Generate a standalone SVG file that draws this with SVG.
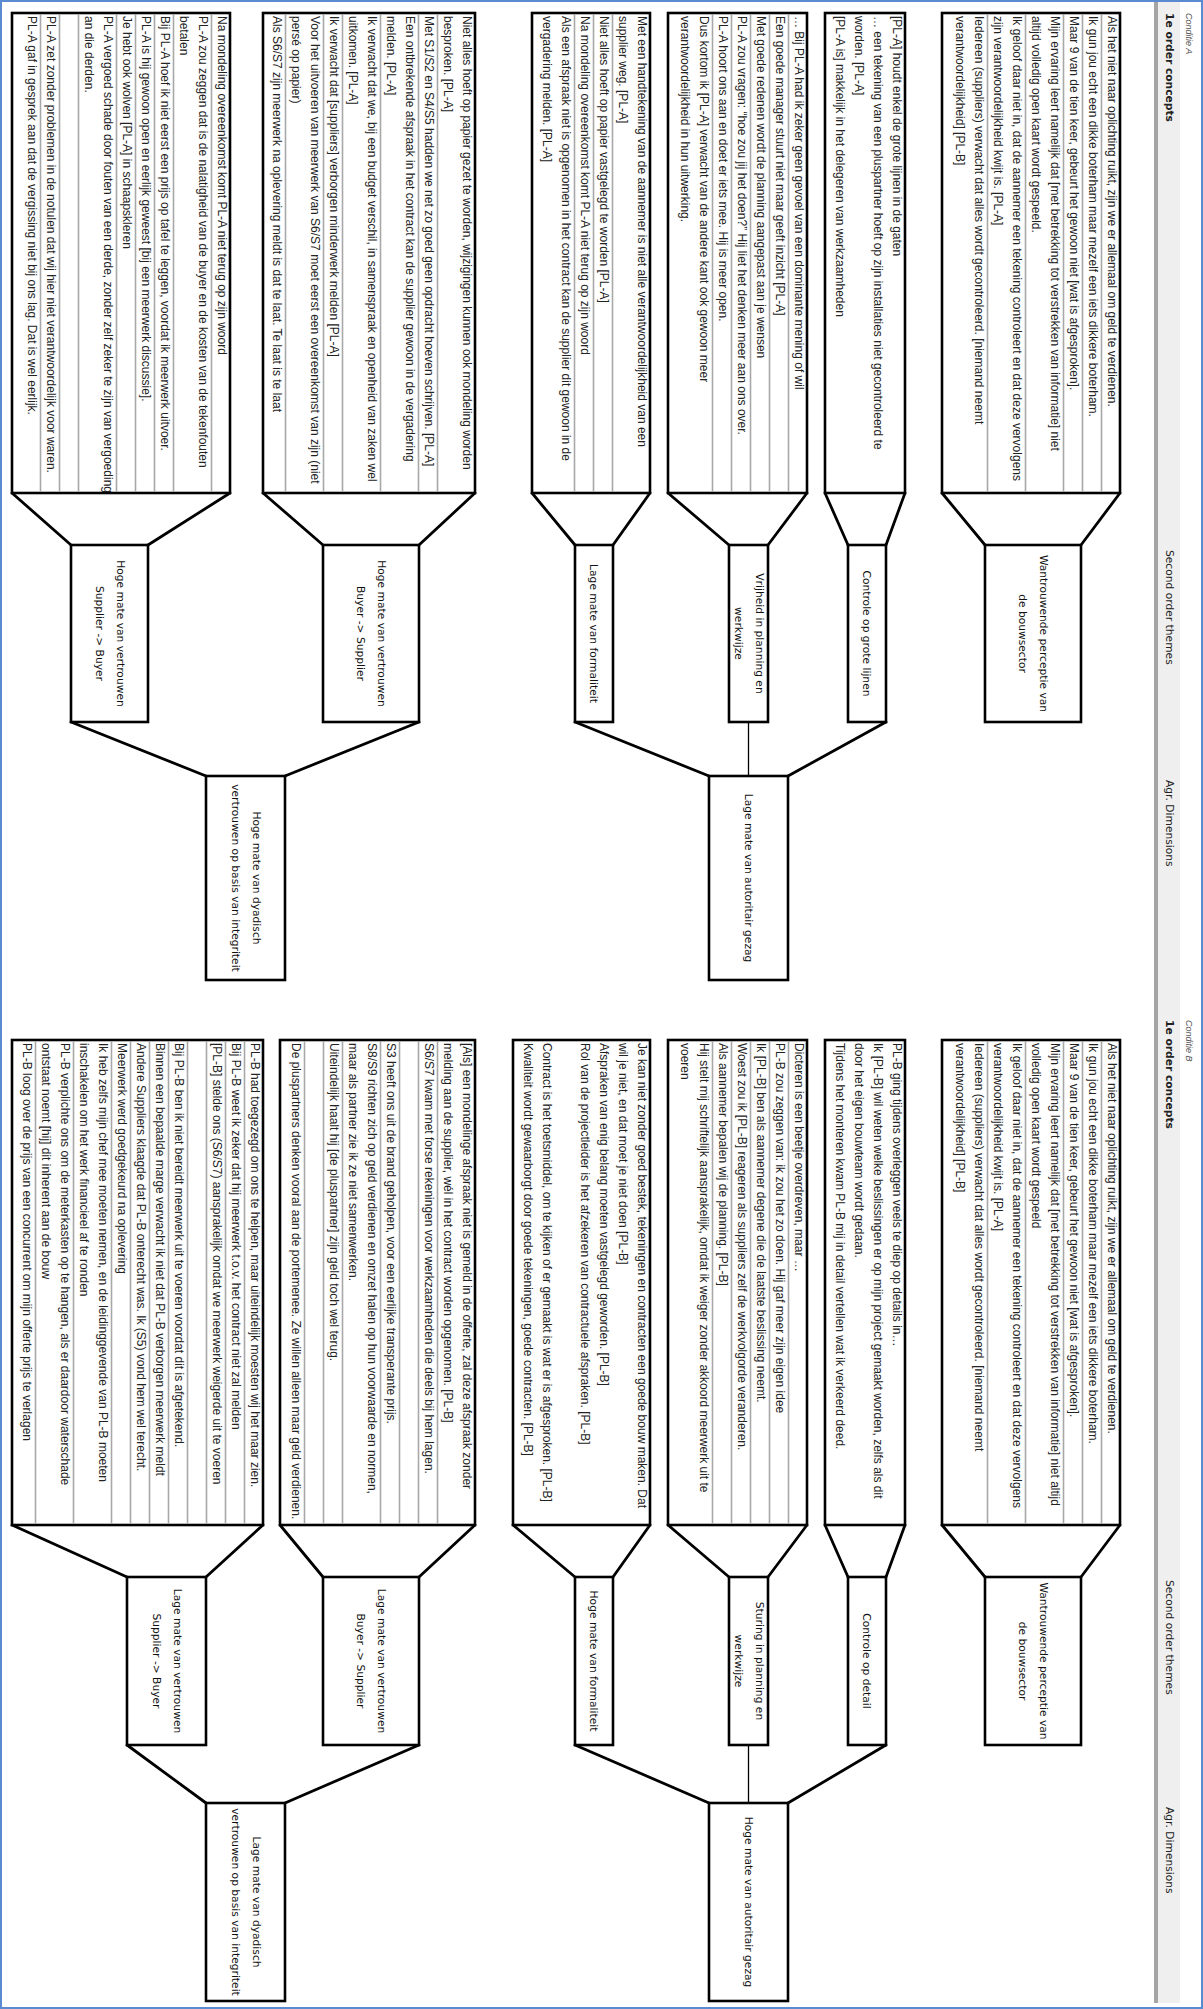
<svg xmlns="http://www.w3.org/2000/svg" width="1203" height="2009" viewBox="0 0 1203 2009">
<style>
.t{font-family:"Liberation Sans",Arial,sans-serif;font-size:12px;fill:#222}
.l{font-family:"DejaVu Sans",Verdana,sans-serif;font-size:10.7px;fill:#111;text-anchor:middle}
.h{font-family:"DejaVu Sans",Verdana,sans-serif;font-size:10.7px;fill:#222}
.hb{font-weight:bold}
.c{font-family:"Liberation Sans",Arial,sans-serif;font-size:9px;font-style:italic;fill:#555}
.bx{fill:#fff;stroke:#000;stroke-width:2.6}
.sp{stroke:#a8a8a8;stroke-width:1.6;fill:none}
.fn{stroke:#000;stroke-width:2.8;fill:none;stroke-linecap:round}
.th{stroke:#000;stroke-width:1.3;fill:none}
</style>
<rect x="0" y="0" width="1203" height="2009" fill="#fff"/>
<g transform="translate(1203 0) rotate(90)">
<g id="header">
<rect x="2" y="23" width="2001" height="22" fill="#efefef"/>
<rect x="2" y="45" width="2001" height="4" fill="#a5a5a5"/>
<text class="c" x="13" y="17">Conditie A</text>
<text class="h hb" x="13" y="37">1e order concepts</text>
<text class="h" x="550" y="37">Second order themes</text>
<text class="h" x="780" y="37">Agr. Dimensions</text>
<text class="c" x="1020" y="17">Conditie B</text>
<text class="h hb" x="1020" y="37">1e order concepts</text>
<text class="h" x="1580" y="37">Second order themes</text>
<text class="h" x="1807" y="37">Agr. Dimensions</text>
</g>
<g id="connectors">
<path class="fn" d="M493 83L545 122M493 261L545 218M493 298L545 317M493 378L545 355M493 396L545 435M493 535L545 474M493 553L545 590M493 671L545 628M493 728L545 784M493 940L545 880M493 973L545 1055M493 1191L545 1132M722 317L776 415M722 628L776 494M722 784L776 918M722 1132L776 997"/>
<path class="th" d="M722 454.5L776 454.5"/>
<path class="fn" d="M1525 83L1577 122M1525 261L1577 218M1525 298L1577 317M1525 378L1577 355M1525 396L1577 435M1525 535L1577 474M1525 553L1577 590M1525 690L1577 628M1525 728L1577 784M1525 923L1577 880M1525 940L1577 997M1525 1191L1577 1076M1745 317L1803 415M1745 628L1803 494M1745 784L1803 918M1745 1076L1803 997"/>
<path class="th" d="M1745 454.5L1803 454.5"/>
</g>

<!-- Conditie A : first order concepts -->
<g id="a-c1">
<rect class="bx" x="13" y="83" width="480" height="178"/>
<path class="sp" d="M14 101.5H492M14 120.5H492M14 139.5H492M14 177.5H492M14 215.5H492"/>
<text class="t" x="16" y="95">Als het niet naar oplichting ruikt,  zijn we er allemaal om geld te verdienen.</text>
<text class="t" x="16" y="114">Ik gun jou echt een dikke boterham maar mezelf een iets dikkere boterham.</text>
<text class="t" x="16" y="133">Maar 9 van de tien keer, gebeurt het gewoon niet [wat is afgesproken].</text>
<text class="t" x="16" y="152">Mijn ervaring leert namelijk dat [met betrekking tot verstrekken van informatie] niet</text>
<text class="t" x="16" y="171">altijd volledig open kaart wordt gespeeld.</text>
<text class="t" x="16" y="190">Ik geloof daar niet in, dat de aannemer een tekening controleert en dat deze vervolgens</text>
<text class="t" x="16" y="209">zijn verantwoordelijkheid kwijt is. [PL-A]</text>
<text class="t" x="16" y="228">Iedereen (suppliers) verwacht dat alles wordt gecontroleerd. [niemand neemt</text>
<text class="t" x="16" y="247">verantwoordelijkheid] [PL-B]</text>
</g>
<g id="a-c2">
<rect class="bx" x="13" y="298" width="480" height="80"/>
<text class="t" x="16" y="310">[PL-A] houdt enkel de grote lijnen in de gaten</text>
<text class="t" x="16" y="329">… een tekening van een pluspartner hoeft op zijn installaties niet gecontroleerd te</text>
<text class="t" x="16" y="348">worden. [PL-A]</text>
<text class="t" x="16" y="367">[PL-A is] makkelijk in het delegeren van werkzaamheden</text>
</g>
<g id="a-c3">
<rect class="bx" x="13" y="396" width="480" height="139"/>
<path class="sp" d="M14 414.5H492M14 433.5H492M14 452.5H492M14 471.5H492M14 490.5H492"/>
<text class="t" x="16" y="408">… Bij PL-A had ik zeker geen gevoel van een dominante mening of wil</text>
<text class="t" x="16" y="427">Een goede manager stuurt niet maar geeft inzicht [PL-A]</text>
<text class="t" x="16" y="446">Met goede redenen wordt de planning aangepast aan je wensen</text>
<text class="t" x="16" y="465">PL-A zou vragen: “hoe zou jij het doen?” Hij liet het denken meer aan ons over.</text>
<text class="t" x="16" y="484">PL-A hoort ons aan en doet er iets mee. Hij is meer open.</text>
<text class="t" x="16" y="503">Dus kortom ik [PL-A] verwacht van de andere kant ook gewoon meer</text>
<text class="t" x="16" y="522">verantwoordelijkheid in hun uitwerking.</text>
</g>
<g id="a-c4">
<rect class="bx" x="13" y="553" width="480" height="118"/>
<path class="sp" d="M14 590.5H492M14 609.5H492M14 628.5H492"/>
<text class="t" x="16" y="565">Met een handtekening van de aannemer is niet alle verantwoordelijkheid van een</text>
<text class="t" x="16" y="584">supplier weg. [PL-A]</text>
<text class="t" x="16" y="603">Niet alles hoeft op papier vastgelegd te worden [PL-A]</text>
<text class="t" x="16" y="622">Na mondeling overeenkomst komt PL-A niet terug op zijn woord</text>
<text class="t" x="16" y="641">Als een afspraak niet is opgenomen in het contract kan de supplier dit gewoon in de</text>
<text class="t" x="16" y="660">vergadering melden. [PL-A]</text>
</g>
<g id="a-c5">
<rect class="bx" x="13" y="728" width="480" height="212"/>
<path class="sp" d="M14 765.5H492M14 784.5H492M14 822.5H492M14 860.5H492M14 879.5H492M14 917.5H492"/>
<text class="t" x="16" y="740">Niet alles hoeft op papier gezet te worden, wijzigingen kunnen ook mondeling worden</text>
<text class="t" x="16" y="759">besproken. [PL-A]</text>
<text class="t" x="16" y="778">Met S1/S2 en S4/S5 hadden we net zo goed geen opdracht hoeven schrijven. [PL-A]</text>
<text class="t" x="16" y="797">Een ontbrekende afspraak in het contract kan de supplier gewoon in de vergadering</text>
<text class="t" x="16" y="816">melden. [PL-A]</text>
<text class="t" x="16" y="835">Ik verwacht dat we, bij een budget verschil,  in samenspraak en openheid van zaken wel</text>
<text class="t" x="16" y="854">uitkomen. [PL-A]</text>
<text class="t" x="16" y="873">Ik verwacht dat [suppliers] verborgen minderwerk melden [PL-A]</text>
<text class="t" x="16" y="892">Voor het uitvoeren van meerwerk van S6/S7 moet eerst een overeenkomst van zijn (niet</text>
<text class="t" x="16" y="911">persé op papier)</text>
<text class="t" x="16" y="930">Als S6/S7 zijn meerwerk na oplevering meldt is dat te laat. Te laat is te laat</text>
</g>
<g id="a-c6">
<rect class="bx" x="13" y="973" width="480" height="218"/>
<path class="sp" d="M14 991.5H492M14 1029.5H492M14 1048.5H492M14 1067.5H492M14 1086.5H492M14 1124.5H492M14 1143.5H492M14 1162.5H492"/>
<text class="t" x="16" y="985">Na mondeling overeenkomst komt PL-A niet terug op zijn woord</text>
<text class="t" x="16" y="1004">PL-A zou zeggen dat is de nalatigheid van de buyer en de kosten van de tekenfouten</text>
<text class="t" x="16" y="1023">betalen</text>
<text class="t" x="16" y="1042">Bij PL-A hoef ik niet eerst een prijs op tafel te leggen, voordat ik meerwerk uitvoer.</text>
<text class="t" x="16" y="1061">PL-A is hij gewoon open en eerlijk geweest [bij een meerwerk discussie].</text>
<text class="t" x="16" y="1080">Je hebt ook wolven [PL-A] in schaapskleren</text>
<text class="t" x="16" y="1099">PL-A vergoed schade door fouten van een derde, zonder zelf zeker te zijn van vergoeding</text>
<text class="t" x="16" y="1118">an die derden.</text>
<text class="t" x="16" y="1156">PL-A zet zonder problemen in de notulen dat wij hier niet verantwoordelijk voor waren.</text>
<text class="t" x="16" y="1175">PL-A gaf in gesprek aan dat de vergissing niet bij ons lag. Dat is wel eerlijk.</text>
</g>

<!-- Conditie A : second order themes -->
<g id="a-t1"><rect class="bx" x="545" y="122" width="177" height="96"/>
<text class="l" x="633.5" y="163">Wantrouwende perceptie van</text><text class="l" x="633.5" y="184">de bouwsector</text></g>
<g id="a-t2"><rect class="bx" x="545" y="317" width="177" height="38"/>
<text class="l" x="633.5" y="340">Controle op grote lijnen</text></g>
<g id="a-t3"><rect class="bx" x="545" y="435" width="177" height="39"/>
<text class="l" x="633.5" y="447.5">Vrijheid in planning en</text><text class="l" x="633.5" y="468.5">werkwijze</text></g>
<g id="a-t4"><rect class="bx" x="545" y="590" width="177" height="38"/>
<text class="l" x="633.5" y="613">Lage mate van formaliteit</text></g>
<g id="a-t5"><rect class="bx" x="545" y="784" width="177" height="96"/>
<text class="l" x="633.5" y="825">Hoge mate van vertrouwen</text><text class="l" x="633.5" y="846">Buyer -&gt; Supplier</text></g>
<g id="a-t6"><rect class="bx" x="545" y="1055" width="177" height="77"/>
<text class="l" x="633.5" y="1086.5">Hoge mate van vertrouwen</text><text class="l" x="633.5" y="1107.5">Supplier -&gt; Buyer</text></g>

<!-- Conditie A : aggregate dimensions -->
<g id="a-d1"><rect class="bx" x="776" y="415" width="204" height="79"/>
<text class="l" x="878" y="458.5">Lage mate van autoritair gezag</text></g>
<g id="a-d2"><rect class="bx" x="776" y="918" width="204" height="79"/>
<text class="l" x="878" y="950.5">Hoge mate van dyadisch</text><text class="l" x="878" y="971.5">vertrouwen op basis van integriteit</text></g>

<!-- Conditie B : first order concepts -->
<g id="b-c1">
<rect class="bx" x="1040" y="83" width="485" height="178"/>
<path class="sp" d="M1041 101.5H1524M1041 120.5H1524M1041 139.5H1524M1041 177.5H1524M1041 215.5H1524"/>
<text class="t" x="1043" y="95">Als het niet naar oplichting ruikt,  zijn we er allemaal om geld te verdienen.</text>
<text class="t" x="1043" y="114">Ik gun jou echt een dikke boterham maar mezelf een iets dikkere boterham.</text>
<text class="t" x="1043" y="133">Maar 9 van de tien keer, gebeurt het gewoon niet [wat is afgesproken].</text>
<text class="t" x="1043" y="152">Mijn ervaring leert namelijk dat [met betrekking tot verstrekken van informatie] niet altijd</text>
<text class="t" x="1043" y="171">volledig open kaart wordt gespeeld</text>
<text class="t" x="1043" y="190">Ik geloof daar niet in, dat de aannemer een tekening controleert en dat deze vervolgens</text>
<text class="t" x="1043" y="209">verantwoordelijkheid kwijt is. [PL-A]</text>
<text class="t" x="1043" y="228">Iedereen (suppliers) verwacht dat alles wordt gecontroleerd. [niemand neemt</text>
<text class="t" x="1043" y="247">verantwoordelijkheid] [PL-B]</text>
</g>
<g id="b-c2">
<rect class="bx" x="1040" y="298" width="485" height="80"/>
<text class="t" x="1043" y="310">PL-B ging tijdens overleggen veels te diep op details in…</text>
<text class="t" x="1043" y="329">Ik [PL-B] wil weten welke beslissingen er op mijn project gemaakt worden, zelfs als dit</text>
<text class="t" x="1043" y="348">door het eigen bouwteam wordt gedaan.</text>
<text class="t" x="1043" y="367">Tijdens het monteren kwam PL-B mij in detail vertellen wat ik verkeerd deed.</text>
</g>
<g id="b-c3">
<rect class="bx" x="1040" y="396" width="485" height="139"/>
<path class="sp" d="M1041 414.5H1524M1041 433.5H1524M1041 452.5H1524M1041 471.5H1524M1041 490.5H1524"/>
<text class="t" x="1043" y="408">Dicteren is een beetje overdreven, maar …</text>
<text class="t" x="1043" y="427">PL-B zou zeggen van: ik zou het zo doen. Hij gaf meer zijn eigen idee</text>
<text class="t" x="1043" y="446">Ik [PL-B] ben als aannemer degene die de laatste beslissing neemt.</text>
<text class="t" x="1043" y="465">Woest zou ik [PL-B] reageren als suppliers zelf de werkvolgorde veranderen.</text>
<text class="t" x="1043" y="484">Als aannemer bepalen wij de planning. [PL-B]</text>
<text class="t" x="1043" y="503">Hij stelt mij schriftelijk aansprakelijk, omdat ik weiger zonder akkoord meerwerk uit te</text>
<text class="t" x="1043" y="522">voeren</text>
</g>
<g id="b-c4">
<rect class="bx" x="1040" y="553" width="485" height="137"/>
<text class="t" x="1043" y="565">Je kan niet zonder goed bestek, tekeningen en contracten een goede bouw maken. Dat</text>
<text class="t" x="1043" y="584">wil je niet, en dat moet je niet doen [PL-B]</text>
<text class="t" x="1043" y="603">Afspraken van enig belang moeten vastgelegd geworden. [PL-B]</text>
<text class="t" x="1043" y="622">Rol van de projectleider is het afzekeren van contractuele afspraken. [PL-B]</text>
<text class="t" x="1043" y="660">Contract is het toetsmiddel, om te kijken of er gemaakt is wat er is afgesproken. [PL-B]</text>
<text class="t" x="1043" y="679">Kwaliteit wordt gewaarborgt door goede tekeningen, goede contracten. [PL-B]</text>
</g>
<g id="b-c5">
<rect class="bx" x="1040" y="728" width="485" height="195"/>
<path class="sp" d="M1041 765.5H1524M1041 784.5H1524M1041 803.5H1524M1041 822.5H1524M1041 860.5H1524M1041 879.5H1524M1041 898.5H1524"/>
<text class="t" x="1043" y="740">[Als] een mondelinge afspraak niet is gemeld in de offerte, zal deze afspraak zonder</text>
<text class="t" x="1043" y="759">melding aan de supplier, wél in het contract worden opgenomen. [PL-B]</text>
<text class="t" x="1043" y="778">S6/S7 kwam met forse rekeningen voor werkzaamheden die deels bij hem lagen.</text>
<text class="t" x="1043" y="816">S3 heeft ons uit de brand geholpen, voor een eerlijke transperante prijs.</text>
<text class="t" x="1043" y="835">S8/S9 richten zich op geld verdienen en omzet halen op hun voorwaarde en normen,</text>
<text class="t" x="1043" y="854">maar als partner zie ik ze niet samenwerken.</text>
<text class="t" x="1043" y="873">Uiteindelijk haalt hij [de pluspartner] zijn geld toch wel terug.</text>
<text class="t" x="1043" y="911">De pluspartners denken vooral aan de portemenee. Ze willen alleen maar geld verdienen.</text>
</g>
<g id="b-c6">
<rect class="bx" x="1040" y="940" width="485" height="251"/>
<path class="sp" d="M1041 958.5H1524M1041 977.5H1524M1041 996.5H1524M1041 1015.5H1524M1041 1034.5H1524M1041 1053.5H1524M1041 1072.5H1524M1041 1091.5H1524M1041 1129.5H1524M1041 1167.5H1524"/>
<text class="t" x="1043" y="952">PL-B had toegezegd om ons te helpen, maar uiteindelijk moesten wij het maar zien.</text>
<text class="t" x="1043" y="971">Bij PL-B weet ik zeker dat hij meerwerk t.o.v. het contract niet zal melden</text>
<text class="t" x="1043" y="990">[PL-B] stelde ons (S6/S7) aansprakelijk omdat we meerwerk weigerde uit te voeren</text>
<text class="t" x="1043" y="1028">Bij PL-B ben ik niet bereidt meerwerk uit te voeren voordat dit is afgetekend.</text>
<text class="t" x="1043" y="1047">Binnen een bepaalde marge verwacht ik niet dat PL-B verborgen meerwerk meldt</text>
<text class="t" x="1043" y="1066">Andere Suppliers klaagde dat PL-B onterecht was. Ik (S5) vond hem wel terecht.</text>
<text class="t" x="1043" y="1085">Meerwerk werd goedgekeurd na oplevering</text>
<text class="t" x="1043" y="1104">Ik heb zelfs mijn chef mee moeten nemen, en de leidinggevende van PL-B moeten</text>
<text class="t" x="1043" y="1123">inschakelen om het werk financieel af te ronden</text>
<text class="t" x="1043" y="1142">PL-B verplichte ons om de meterkasten op te hangen, als er daardoor waterschade</text>
<text class="t" x="1043" y="1161">ontstaat noemt [hij] dit inherent aan de bouw</text>
<text class="t" x="1043" y="1180">PL-B loog over de prijs van een concurrent om mijn offerte prijs te verlagen</text>
</g>

<!-- Conditie B : second order themes -->
<g id="b-t1"><rect class="bx" x="1577" y="122" width="168" height="96"/>
<text class="l" x="1661" y="163">Wantrouwende perceptie van</text><text class="l" x="1661" y="184">de bouwsector</text></g>
<g id="b-t2"><rect class="bx" x="1577" y="317" width="168" height="38"/>
<text class="l" x="1661" y="340">Controle op detail</text></g>
<g id="b-t3"><rect class="bx" x="1577" y="435" width="168" height="39"/>
<text class="l" x="1661" y="447.5">Sturing in planning en</text><text class="l" x="1661" y="468.5">werkwijze</text></g>
<g id="b-t4"><rect class="bx" x="1577" y="590" width="168" height="38"/>
<text class="l" x="1661" y="613">Hoge mate van formaliteit</text></g>
<g id="b-t5"><rect class="bx" x="1577" y="784" width="168" height="96"/>
<text class="l" x="1661" y="825">Lage mate van vertrouwen</text><text class="l" x="1661" y="846">Buyer -&gt; Supplier</text></g>
<g id="b-t6"><rect class="bx" x="1577" y="997" width="168" height="79"/>
<text class="l" x="1661" y="1029.5">Lage mate van vertrouwen</text><text class="l" x="1661" y="1050.5">Supplier -&gt; Buyer</text></g>

<!-- Conditie B : aggregate dimensions -->
<g id="b-d1"><rect class="bx" x="1803" y="415" width="198" height="79"/>
<text class="l" x="1902" y="458.5">Hoge mate van autoritair gezag</text></g>
<g id="b-d2"><rect class="bx" x="1803" y="918" width="198" height="79"/>
<text class="l" x="1902" y="950.5">Lage mate van dyadisch</text><text class="l" x="1902" y="971.5">vertrouwen op basis van integriteit</text></g>
</g>
<rect x="1" y="1" width="1201" height="2007" fill="none" stroke="#5a8ad0" stroke-width="2"/>
</svg>
